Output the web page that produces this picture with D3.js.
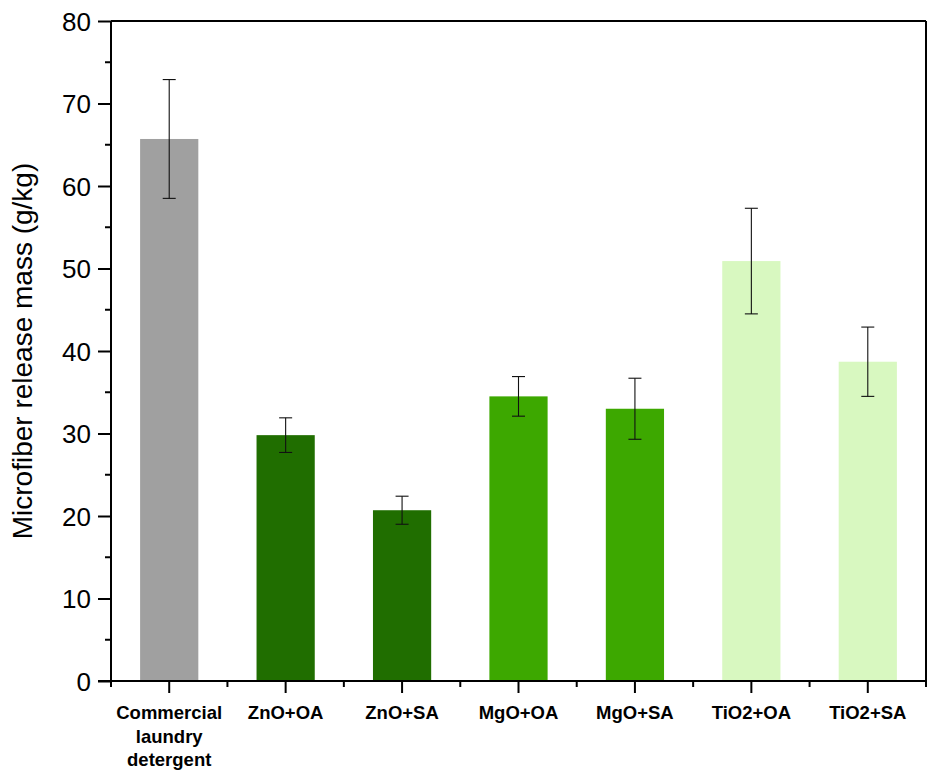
<!DOCTYPE html>
<html><head><meta charset="utf-8">
<script src="https://cdn.jsdelivr.net/npm/d3@7"></script>
<style>body{margin:0;background:#fff}svg{display:block}</style>
</head><body>
<svg id="c" width="937" height="778"></svg>
<script>
const categories = [["Commercial","laundry","detergent"],["ZnO+OA"],["ZnO+SA"],["MgO+OA"],["MgO+SA"],["TiO2+OA"],["TiO2+SA"]];
const means = [65.7, 29.8, 20.7, 34.5, 33.0, 50.9, 38.7];
const errors = [7.2, 2.1, 1.7, 2.4, 3.7, 6.4, 4.2];
const colors = ["#a0a0a0","#206e00","#206e00","#3da800","#3da800","#d8f8c0","#d8f8c0"];
const yTicks = [0,10,20,30,40,50,60,70,80];

const svg = d3.select("#c");
const L = 111, R = 926, T = 21, B = 681;
const idx = d3.range(categories.length);
const x = d3.scaleBand().domain(idx).range([L, R]).paddingInner(0).paddingOuter(0);
const y = d3.scaleLinear().domain([0, 80]).range([B, T]);
const bw = x.bandwidth() * 0.5;

// bars
svg.selectAll("rect.bar").data(idx).enter().append("rect")
  .attr("x", i => x(i) + x.bandwidth()/2 - bw/2)
  .attr("y", i => y(means[i]))
  .attr("width", bw)
  .attr("height", i => y(0) - y(means[i]))
  .attr("fill", i => colors[i]);

// error bars
const eg = svg.append("g").attr("stroke", "#111").attr("stroke-width", 1.1);
idx.forEach(i => {
  const cx = x(i) + x.bandwidth()/2;
  const hi = y(means[i] + errors[i]), lo = y(means[i] - errors[i]);
  eg.append("line").attr("x1", cx).attr("x2", cx).attr("y1", hi).attr("y2", lo);
  eg.append("line").attr("x1", cx-6.5).attr("x2", cx+6.5).attr("y1", hi).attr("y2", hi);
  eg.append("line").attr("x1", cx-6.5).attr("x2", cx+6.5).attr("y1", lo).attr("y2", lo);
});

// frame (top, right)
svg.append("line").attr("x1", L).attr("x2", R).attr("y1", T).attr("y2", T).attr("stroke", "#000").attr("stroke-width", 2);
svg.append("line").attr("x1", R).attr("x2", R).attr("y1", T).attr("y2", B).attr("stroke", "#000").attr("stroke-width", 2);

// y axis
const yAxis = d3.axisLeft(y).tickValues(yTicks).tickSize(13).tickPadding(7).tickFormat(d3.format("d"));
const ya = svg.append("g").attr("transform", `translate(${L},0)`).call(yAxis);
ya.select(".domain").attr("stroke-width", 2).attr("d", `M0,${T}V${B}`);
ya.selectAll(".tick line").attr("stroke-width", 2);
ya.selectAll(".tick text").attr("font-family", "Liberation Sans, Arial, sans-serif").attr("font-size", 26).attr("fill", "#000").attr("dy", "0.36em");
// minor y ticks
const minorY = d3.range(5, 80, 10);
svg.append("g").selectAll("line").data(minorY).enter().append("line")
  .attr("x1", L-6).attr("x2", L).attr("y1", d => y(d)).attr("y2", d => y(d))
  .attr("stroke", "#000").attr("stroke-width", 2);

// x axis
const xa = svg.append("g").attr("transform", `translate(0,${B})`);
xa.append("line").attr("x1", L-13).attr("x2", R).attr("y1", 0).attr("y2", 0).attr("stroke", "#000").attr("stroke-width", 2);
xa.selectAll("line.maj").data(idx).enter().append("line")
  .attr("x1", i => x(i) + x.bandwidth()/2).attr("x2", i => x(i) + x.bandwidth()/2)
  .attr("y1", 0).attr("y2", 12).attr("stroke", "#000").attr("stroke-width", 2);
xa.selectAll("line.min").data(d3.range(categories.length + 1)).enter().append("line")
  .attr("x1", i => L + i * x.bandwidth()).attr("x2", i => L + i * x.bandwidth())
  .attr("y1", 0).attr("y2", 6).attr("stroke", "#000").attr("stroke-width", 2);
const lbl = xa.selectAll("text").data(idx).enter().append("text")
  .attr("x", i => x(i) + x.bandwidth()/2)
  .attr("y", 38)
  .attr("text-anchor", "middle")
  .attr("font-family", "Liberation Sans, Arial, sans-serif")
  .attr("font-weight", "bold").attr("font-size", 18.5).attr("fill", "#000");
lbl.each(function(i){
  const t = d3.select(this);
  categories[i].forEach((s, k) => {
    t.append("tspan").attr("x", x(i) + x.bandwidth()/2).attr("dy", k === 0 ? 0 : 23.5).text(s);
  });
});

// y label
svg.append("text")
  .attr("transform", `translate(32,${(T+B)/2}) rotate(-90)`)
  .attr("text-anchor", "middle")
  .attr("font-family", "Liberation Sans, Arial, sans-serif")
  .attr("font-size", 28).attr("fill", "#000")
  .text("Microfiber release mass (g/kg)");
</script>
</body></html>
